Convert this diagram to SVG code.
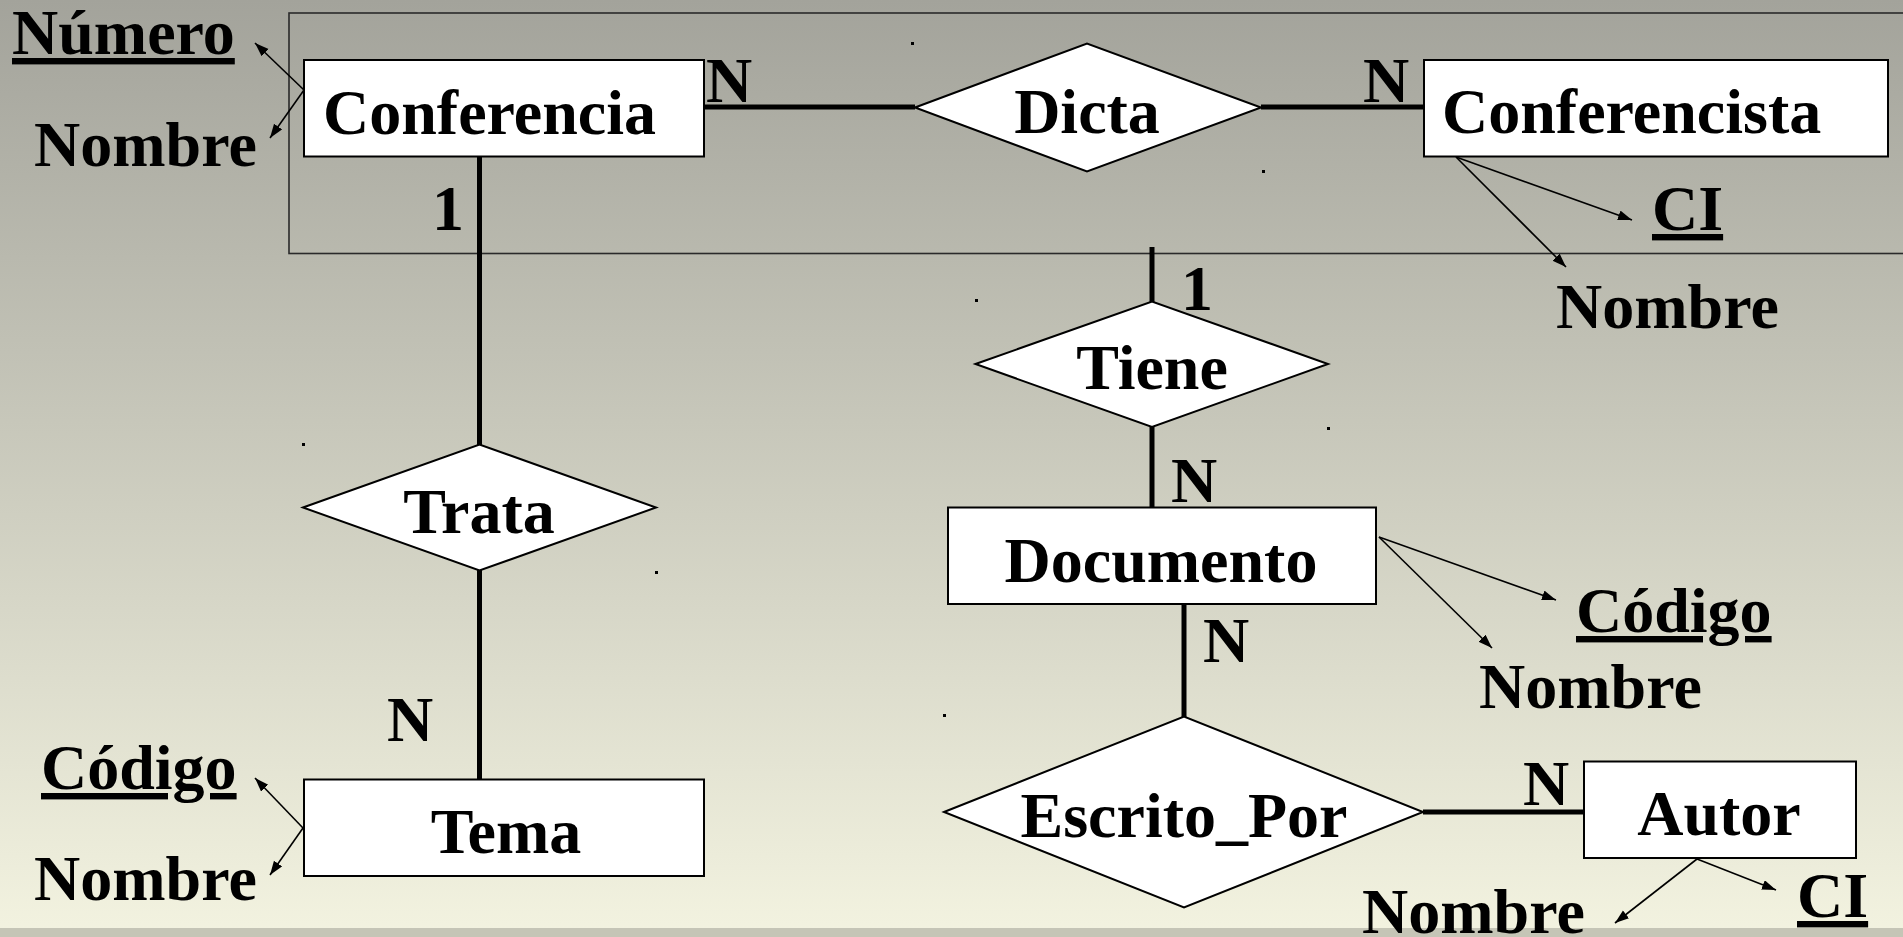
<svg xmlns="http://www.w3.org/2000/svg" width="1903" height="937" viewBox="0 0 1903 937">
<defs>
<linearGradient id="bg" x1="0" y1="0" x2="0" y2="1">
<stop offset="0" stop-color="#a3a39b"/>
<stop offset="1" stop-color="#f3f3e0"/>
</linearGradient>
<marker id="arr" markerUnits="userSpaceOnUse" markerWidth="16" markerHeight="12" refX="14" refY="5" orient="auto">
<path d="M0,0 L14,5 L0,10 Z" fill="#000"/>
</marker>
<style>
text{font-family:"Liberation Serif","Times New Roman",serif;font-weight:bold;font-size:64px;fill:#000}
.mid{text-anchor:middle}
.key{text-decoration:underline}
.ent{fill:#fff;stroke:#000;stroke-width:2}
.rel{fill:#fff;stroke:#000;stroke-width:2;stroke-linejoin:miter}
.conn{stroke:#000;stroke-width:5;fill:none}
.attr{stroke:#000;stroke-width:1.6;fill:none;marker-end:url(#arr)}
.dot{fill:#000}
</style>
</defs>
<rect x="0" y="0" width="1903" height="937" fill="url(#bg)"/>
<rect x="0" y="928" width="1903" height="9" fill="#c5c5b6"/>
<rect id="aggregation" x="289" y="13" width="1630" height="240.5" fill="none" stroke="#2a2a2a" stroke-width="1.6"/>
<g id="connectors">
<line class="conn" x1="704" y1="107" x2="915" y2="107"/>
<line class="conn" x1="1261" y1="107" x2="1424" y2="107"/>
<line class="conn" x1="479.5" y1="156" x2="479.5" y2="445"/>
<line class="conn" x1="479.5" y1="570" x2="479.5" y2="780"/>
<line class="conn" x1="1152" y1="247" x2="1152" y2="302"/>
<line class="conn" x1="1152" y1="427" x2="1152" y2="508"/>
<line class="conn" x1="1184" y1="604" x2="1184" y2="717"/>
<line class="conn" x1="1423" y1="812" x2="1584" y2="812"/>
<line class="attr" x1="304" y1="90" x2="255" y2="43"/>
<line class="attr" x1="304" y1="90" x2="270" y2="138"/>
<line class="attr" x1="1456" y1="157" x2="1632" y2="220"/>
<line class="attr" x1="1456" y1="157" x2="1566" y2="267"/>
<line class="attr" x1="1379" y1="537" x2="1556" y2="600"/>
<line class="attr" x1="1379" y1="537" x2="1492" y2="648"/>
<line class="attr" x1="1697" y1="859" x2="1776" y2="890"/>
<line class="attr" x1="1697" y1="859" x2="1615" y2="923"/>
<line class="attr" x1="303" y1="828" x2="255" y2="778"/>
<line class="attr" x1="303" y1="828" x2="270" y2="875"/>
</g>
<g id="labels">
<text x="706" y="102">N</text>
<text x="1363" y="102">N</text>
<text x="432" y="230">1</text>
<text x="1181" y="310">1</text>
<text x="1171" y="502">N</text>
<text x="1203" y="662">N</text>
<text x="1523" y="805">N</text>
<text x="387" y="741">N</text>
</g>
<g id="conferencia">
<rect class="ent" x="304" y="60" width="400" height="96.5"/>
<text x="323" y="134">Conferencia</text>
<text class="key" x="12" y="54">Número</text>
<text x="34" y="166">Nombre</text>
</g>
<g id="dicta">
<polygon class="rel" points="915,107.5 1087,43.5 1261,107.5 1087,171.5"/>
<text class="mid" x="1087" y="133">Dicta</text>
</g>
<g id="conferencista">
<rect class="ent" x="1424" y="60" width="464" height="96.5"/>
<text x="1442" y="133">Conferencista</text>
<text class="key" x="1652" y="230">CI</text>
<text x="1556" y="328">Nombre</text>
</g>
<g id="trata">
<polygon class="rel" points="303,507.5 479.5,444.5 656,507.5 479.5,570.5"/>
<text class="mid" x="479" y="533">Trata</text>
</g>
<g id="tema">
<rect class="ent" x="304" y="779.5" width="400" height="96.5"/>
<text class="mid" x="506" y="853">Tema</text>
<text class="key" x="41" y="789">Código</text>
<text x="34" y="900">Nombre</text>
</g>
<g id="tiene">
<polygon class="rel" points="975.5,364 1152,301.5 1328,364 1152,427"/>
<text class="mid" x="1152" y="389">Tiene</text>
</g>
<g id="documento">
<rect class="ent" x="948" y="507.5" width="428" height="96.5"/>
<text class="mid" x="1161" y="582">Documento</text>
<text class="key" x="1576" y="632">Código</text>
<text x="1479" y="708">Nombre</text>
</g>
<g id="escrito_por">
<polygon class="rel" points="944,812 1184,716.5 1423,812 1184,907.5"/>
<text class="mid" x="1184" y="837">Escrito_Por</text>
</g>
<g id="autor">
<rect class="ent" x="1584" y="761.5" width="272" height="96.5"/>
<text class="mid" x="1719" y="835">Autor</text>
<text class="key" x="1797" y="917">CI</text>
<text x="1362" y="933">Nombre</text>
</g>
<g id="handles">
<rect class="dot" x="911" y="42" width="3" height="3"/>
<rect class="dot" x="1262" y="170" width="3" height="3"/>
<rect class="dot" x="302" y="443" width="3" height="3"/>
<rect class="dot" x="655" y="571" width="3" height="3"/>
<rect class="dot" x="975" y="299" width="3" height="3"/>
<rect class="dot" x="1327" y="427" width="3" height="3"/>
<rect class="dot" x="943" y="714" width="3" height="3"/>
</g>
</svg>
